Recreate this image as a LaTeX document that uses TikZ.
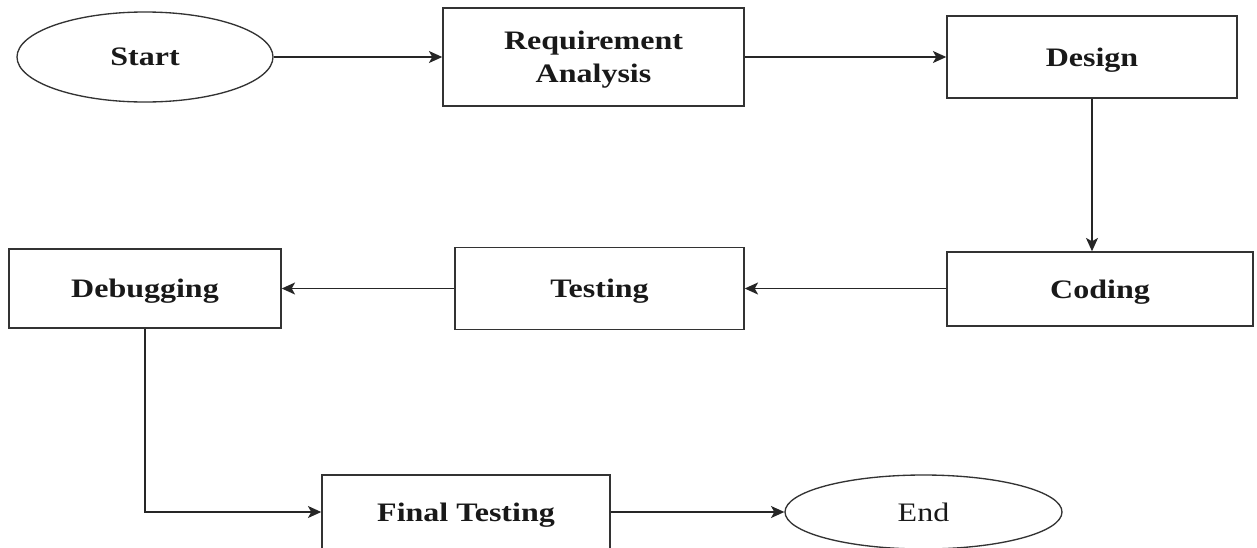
\documentclass[tikz,border=0pt]{standalone}
\usepackage{fontspec}
\setmainfont{Liberation Serif}
\newfontfamily\labfont[FakeStretch=1.2]{Liberation Serif}
\usetikzlibrary{shapes.geometric,arrows.meta}
\begin{document}
\begin{tikzpicture}[x=0.75pt,y=-0.75pt,
  lab/.style={font=\labfont\bfseries\fontsize{20}{24.75}\selectfont,align=center,text=black!90,text depth=0pt},
  box/.style={lab,draw=black!80,line width=1.1pt,rectangle,inner sep=0pt},
  oval/.style={lab,draw=black!80,line width=1pt,ellipse,inner sep=0pt},
  conn/.style={draw=black!85,line width=1.1pt,-{Stealth[length=10pt,width=9pt,inset=2.5pt]}}]
\useasboundingbox (0,0) rectangle (1257,547);
\clip (0,0) rectangle (1257,547);
\fill[white] (0,0) rectangle (1257,547);
\node[oval,minimum width=192pt,minimum height=67.5pt] (start) at (145,57) {Start};
\node[box,minimum width=225.75pt,minimum height=73.5pt] (req) at (593.5,57) {Requirement\\Analysis};
\node[box,minimum width=217.5pt,minimum height=61.5pt] (design) at (1092,57) {Design};
\node[box,minimum width=229.5pt,minimum height=55.5pt] (coding) at (1100,289) {Coding};
\node[box,minimum width=216.75pt,minimum height=61.5pt] (testing) at (599.5,288.5) {Testing};
\node[box,minimum width=204pt,minimum height=59.25pt] (debug) at (145,288.5) {Debugging};
\node[box,minimum width=216pt,minimum height=55.5pt] (final) at (466,512) {Final Testing};
\node[oval,minimum width=207.75pt,minimum height=55.5pt,font=\labfont\fontsize{20}{24.75}\selectfont] (end) at (923.5,512) {End};
\draw[conn] (start.east) -- (req.west);
\draw[conn] (req.east) -- (design.west);
\draw[conn] (design.south) -- (design.south |- coding.north);
\draw[conn] (coding.west |- testing.east) -- (testing.east);
\draw[conn] (testing.west) -- (debug.east);
\draw[conn] (debug.south) |- (final.west);
\draw[conn] (final.east) -- (end.west);
\end{tikzpicture}
\end{document}
